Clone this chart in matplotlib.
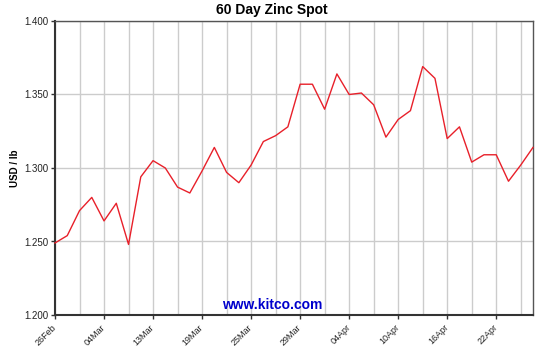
import matplotlib

matplotlib.use("Agg")
import matplotlib.pyplot as plt
import numpy as np

plt.rcParams["font.family"] = ["Liberation Sans", "DejaVu Sans"]

# zinc spot price, USD/lb, one value per trading day
prices = [
    1.249, 1.254, 1.271, 1.280, 1.264, 1.276, 1.248, 1.294, 1.305, 1.300,
    1.287, 1.283, 1.298, 1.314, 1.297, 1.290, 1.302, 1.318, 1.322, 1.328,
    1.357, 1.357, 1.340, 1.364, 1.350, 1.351, 1.343, 1.321, 1.333, 1.339,
    1.369, 1.361, 1.320, 1.328, 1.304, 1.309, 1.309, 1.291, 1.302, 1.314,
]
date_labels = ["26Feb", "04Mar", "13Mar", "19Mar", "25Mar",
               "29Mar", "04Apr", "10Apr", "16Apr", "22Apr"]
y_ticks = [1.200, 1.250, 1.300, 1.350, 1.400]

x = np.arange(len(prices))

fig = plt.figure(figsize=(5.44, 3.46), dpi=100)
ax = fig.add_axes([55 / 544, 31 / 346, 478 / 544, 294 / 346])

ax.set_xlim(0, len(prices) - 1)
ax.set_ylim(1.2, 1.4)

ax.set_xticks(np.arange(0, len(prices), 2), minor=True)
ax.set_xticks(np.arange(0, len(date_labels) * 4, 4))
ax.set_xticklabels(date_labels, rotation=45, ha="right", va="center",
                   rotation_mode="anchor", fontsize=6.5, color="#222222")
ax.set_yticks(y_ticks)
ax.set_yticklabels([f"{v:.3f}" for v in y_ticks], fontsize=7, color="#222222")

ax.grid(True, which="both", color="#cccccc", linewidth=1)
ax.set_axisbelow(True)
ax.tick_params(axis="both", which="major", length=3, width=1, color="#333333", pad=2)
ax.tick_params(axis="x", which="major", pad=5)
ax.tick_params(axis="x", which="minor", length=0)

for side in ("top", "right"):
    ax.spines[side].set_color("#555555")
    ax.spines[side].set_linewidth(1)
for side in ("left", "bottom"):
    ax.spines[side].set_color("#333333")
    ax.spines[side].set_linewidth(1.5)

ax.plot(x, prices, color="#e8202a", linewidth=1, clip_on=False, zorder=3)

ax.set_ylabel("USD / lb", fontsize=7, fontweight="bold")
ax.yaxis.set_label_coords(-35 / 478, 0.5)
fig.text(272 / 544, 1 - 10 / 346, "60 Day Zinc Spot", ha="center", va="center",
         fontsize=10, fontweight="bold")
fig.text(272 / 544, 1 - 305 / 346, "www.kitco.com", ha="center", va="center",
         fontsize=10, fontweight="bold", color="#0000cc")

fig.savefig("out.png", dpi=100)
plt.close(fig)
